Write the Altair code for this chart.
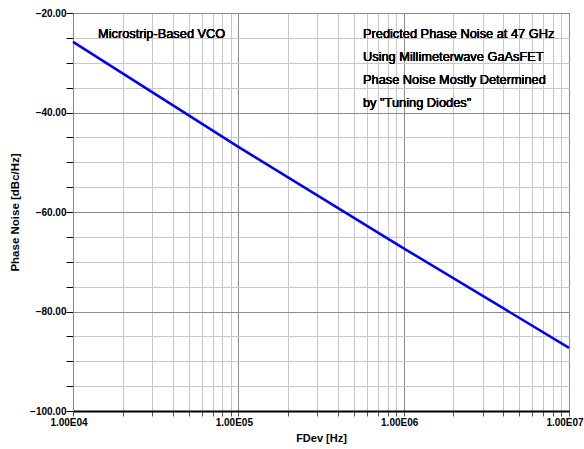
import altair as alt
import pandas as pd

# Data
fdev_hz = [1e4, 1e5, 1e6, 1e7]
phase_noise = [-25.8, -46.9, -67.3, -87.3]

x_decades = [10000, 100000, 1000000, 10000000]
x_tick_labels = ["1.00E04", "1.00E05", "1.00E06", "1.00E07"]
x_minor = [m * d for d in [10000, 100000, 1000000] for m in range(1, 10)] + [10000000]
y_ticks = list(range(-100, -15, 5))

left_note = "Microstrip-Based VCO"
right_note = [
    "Predicted Phase Noise at 47 GHz",
    "Using Millimeterwave GaAsFET",
    "Phase Noise Mostly Determined",
    'by "Tuning Diodes"',
]

df = pd.DataFrame({"FDev": fdev_hz, "PN": phase_noise})
df_xlab = pd.DataFrame({"FDev": x_decades, "lab": x_tick_labels})

dec_list = "[" + ",".join(str(v) for v in x_decades) + "]"

x_axis = alt.Axis(
    title="FDev [Hz]",
    values=x_minor,
    labels=False,
    tickSize=5,
    tickColor="#555555",
    domainColor="black",
    domainWidth=2,
    grid=True,
    gridColor={"condition": {"test": f"indexof({dec_list}, datum.value) >= 0", "value": "#8c8c8c"}, "value": "#c8c8c8"},
    gridWidth=1,
    titleFontSize=11,
    titleFontWeight="bold",
    titleColor="black",
    titleBaseline="middle",
    titleY=27,
)

y_axis = alt.Axis(
    title="Phase Noise [dBc/Hz]",
    values=y_ticks,
    labelExpr="datum.value % 20 == 0 ? format(datum.value, '.2f') : ''",
    labelOverlap=False,
    labelFontSize=10,
    labelFontWeight="bold",
    labelColor="black",
    labelPadding=0,
    tickSize=7,
    tickColor="black",
    domainColor="#888888",
    domainWidth=1,
    grid=True,
    gridColor={"condition": {"test": "datum.value % 20 == 0", "value": "#8c8c8c"}, "value": "#c8c8c8"},
    gridWidth=1,
    titleFontSize=11.5,
    titleFontWeight="bold",
    titleColor="black",
    titlePadding=9,
)

x_scale = alt.Scale(type="log", domain=[1e4, 1e7], nice=False)

line = alt.Chart(df).mark_line(color="#0000ff", strokeWidth=2.5).encode(
    x=alt.X("FDev:Q", scale=x_scale, axis=x_axis),
    y=alt.Y("PN:Q", scale=alt.Scale(domain=[-100, -20], nice=False, zero=False), axis=y_axis),
)

xlabels = alt.Chart(df_xlab).mark_text(
    align="center", baseline="middle", fontSize=10, fontWeight="bold", color="black", dx=-4
).encode(
    x=alt.X("FDev:Q", scale=x_scale),
    y=alt.value(410),
    text="lab:N",
)

txt_left = alt.Chart(df).mark_text(
    align="left", baseline="middle", fontSize=12.8, font="Liberation Sans", color="black"
).encode(x=alt.value(25), y=alt.value(21), text=alt.value(left_note))

txt_right = alt.Chart(df).mark_text(
    align="left", baseline="middle", fontSize=12.8, font="Liberation Sans", color="black", lineHeight=23
).encode(x=alt.value(290), y=alt.value(21), text=alt.value(right_note))

chart = (
    alt.layer(line, xlabels, txt_left, txt_right)
    .properties(
        width=496,
        height=398,
        autosize=alt.AutoSizeParams(type="none"),
        padding={"left": 73, "top": 13, "right": 15, "bottom": 38},
        background="white",
    )
    .configure(font="Liberation Sans")
    .configure_view(stroke="black", strokeWidth=1)
)

chart.save("out.html", embed_options={"renderer": "svg", "actions": False})
